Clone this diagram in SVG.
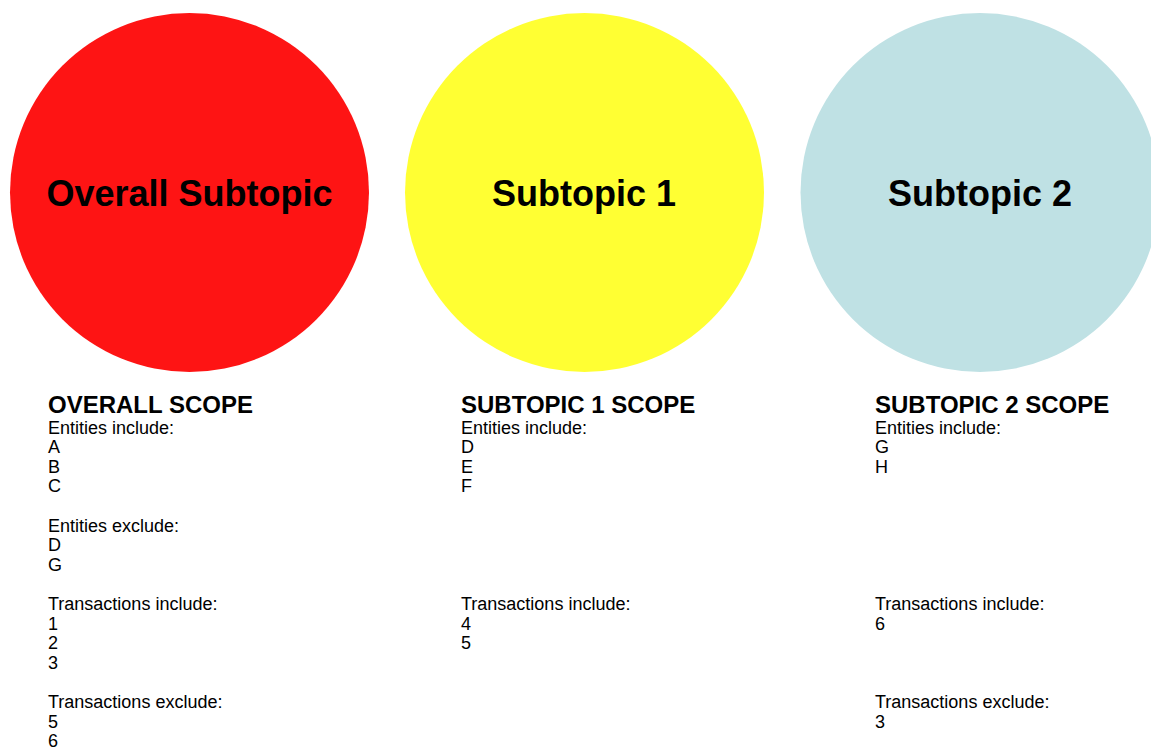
<svg xmlns="http://www.w3.org/2000/svg" width="1151" height="748" viewBox="0 0 1151 748">
<style>
.title{font-family:"Liberation Sans",Arial,sans-serif;font-weight:bold;font-size:36px;fill:#000;text-anchor:middle}
.head{font-family:"Liberation Sans",Arial,sans-serif;font-weight:bold;font-size:24px;fill:#000}
.body{font-family:"Liberation Sans",Arial,sans-serif;font-size:18px;fill:#000}
</style>
<rect width="1151" height="748" fill="#ffffff"/>
<g id="node-overall">
<circle cx="189.5" cy="192.5" r="179.5" fill="#FE1414"/>
<text class="title" x="189.5" y="206">Overall Subtopic</text>
</g>
<g id="node-subtopic1">
<circle cx="584.5" cy="192.5" r="179.5" fill="#FFFF33"/>
<text class="title" x="584" y="206">Subtopic 1</text>
</g>
<g id="node-subtopic2">
<circle cx="980" cy="192.5" r="179.5" fill="#BFE1E4"/>
<text class="title" x="980" y="206">Subtopic 2</text>
</g>
<g id="connectors"></g>
<g id="scope-overall">
<text class="head" x="48" y="412.5">OVERALL SCOPE</text>
<text class="body" x="48" y="433.5">Entities include:</text>
<text class="body" x="48" y="453.1">A</text>
<text class="body" x="48" y="472.7">B</text>
<text class="body" x="48" y="492.3">C</text>
<text class="body" x="48" y="531.5">Entities exclude:</text>
<text class="body" x="48" y="551.1">D</text>
<text class="body" x="48" y="570.7">G</text>
<text class="body" x="48" y="609.9">Transactions include:</text>
<text class="body" x="48" y="629.5">1</text>
<text class="body" x="48" y="649.1">2</text>
<text class="body" x="48" y="668.7">3</text>
<text class="body" x="48" y="707.9">Transactions exclude:</text>
<text class="body" x="48" y="727.5">5</text>
<text class="body" x="48" y="747.1">6</text>
</g>
<g id="scope-subtopic1">
<text class="head" x="461" y="412.5">SUBTOPIC 1 SCOPE</text>
<text class="body" x="461" y="433.5">Entities include:</text>
<text class="body" x="461" y="453.1">D</text>
<text class="body" x="461" y="472.7">E</text>
<text class="body" x="461" y="492.3">F</text>
<text class="body" x="461" y="609.9">Transactions include:</text>
<text class="body" x="461" y="629.5">4</text>
<text class="body" x="461" y="649.1">5</text>
</g>
<g id="scope-subtopic2">
<text class="head" x="875" y="412.5">SUBTOPIC 2 SCOPE</text>
<text class="body" x="875" y="433.5">Entities include:</text>
<text class="body" x="875" y="453.1">G</text>
<text class="body" x="875" y="472.7">H</text>
<text class="body" x="875" y="609.9">Transactions include:</text>
<text class="body" x="875" y="629.5">6</text>
<text class="body" x="875" y="707.9">Transactions exclude:</text>
<text class="body" x="875" y="727.5">3</text>
</g>
</svg>
